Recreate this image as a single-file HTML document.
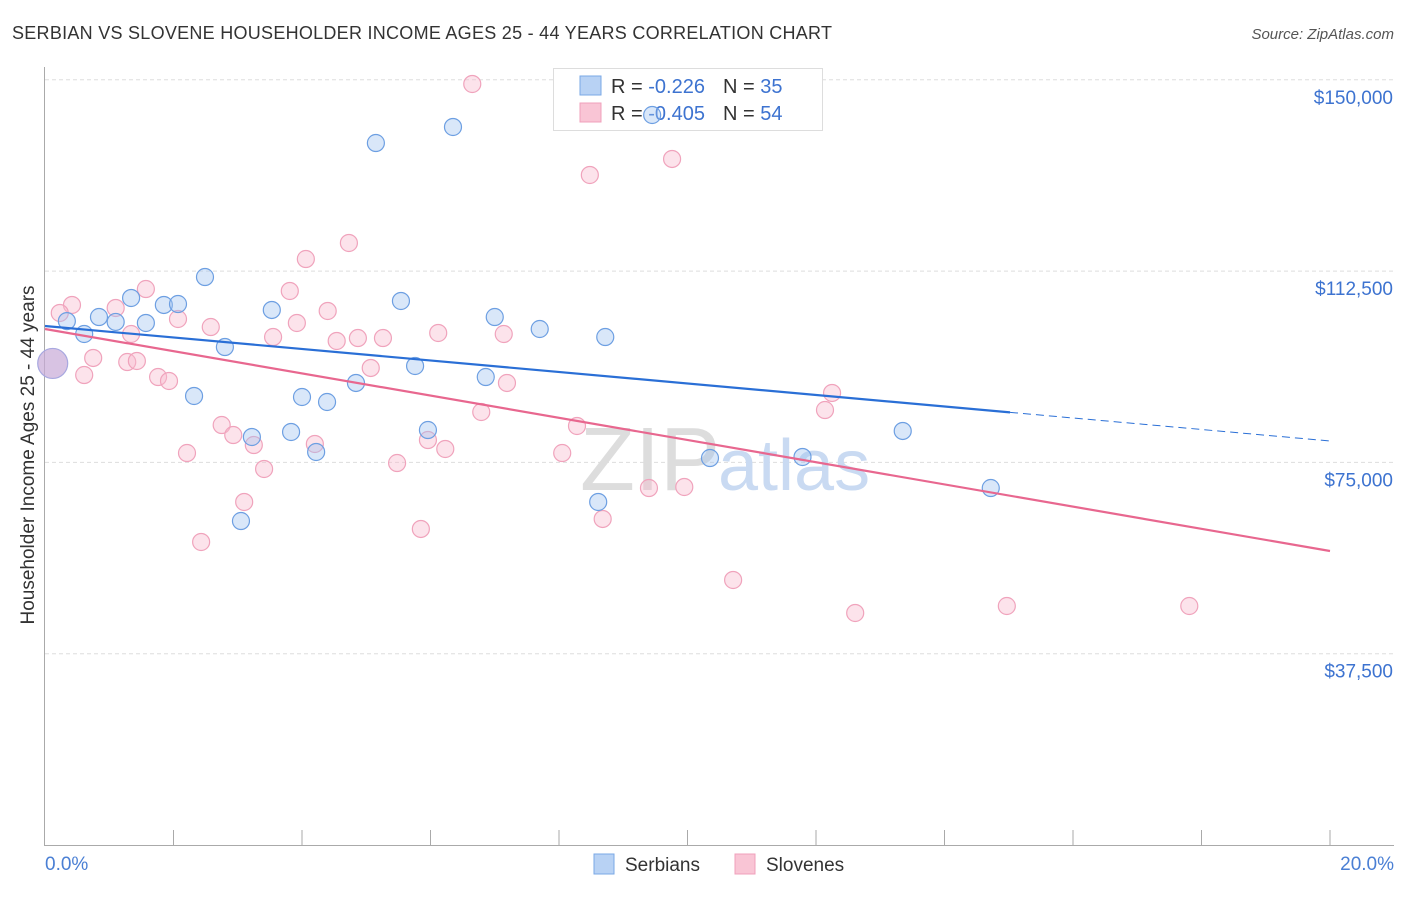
<!DOCTYPE html>
<html><head><meta charset="utf-8"><style>
body{margin:0;background:#fff;font-family:"Liberation Sans",sans-serif;}
svg text{font-family:"Liberation Sans",sans-serif;}
</style></head><body>
<svg width="1406" height="892">
<text x="12" y="39" font-size="18" fill="#333" textLength="820">SERBIAN VS SLOVENE HOUSEHOLDER INCOME AGES 25 - 44 YEARS CORRELATION CHART</text>
<text x="1394" y="39" font-size="15" fill="#555" text-anchor="end" font-style="italic">Source: ZipAtlas.com</text>
<g id="grid"></g>
<text x="720" y="490" font-size="90" fill="#ddd" text-anchor="end" font-family="Liberation Serif">ZIP</text>
<text x="718" y="490" font-size="72" fill="#c9daf2">atlas</text>
<g>
<rect x="553.5" y="68.5" width="269" height="62" fill="#fff" stroke="#ddd"/>
<rect x="580" y="76" width="21" height="19" fill="#b8d2f4" stroke="#7aa8e6"/>
<rect x="580" y="103" width="21" height="19" fill="#f9c5d5" stroke="#f0a0bb"/>
<text x="611" y="93" font-size="20" fill="#333">R = <tspan fill="#3d73d0"> -0.226</tspan><tspan dx="18">N = </tspan><tspan fill="#3d73d0">35</tspan></text>
<text x="611" y="120" font-size="20" fill="#333">R = <tspan fill="#3d73d0">-0.405</tspan><tspan dx="18">N = </tspan><tspan fill="#3d73d0">54</tspan></text>
</g>
<g id="pts"></g>
<g id="lines"></g>
<text transform="translate(34,455) rotate(-90)" font-size="19" fill="#333" text-anchor="middle">Householder Income Ages 25 - 44 years</text>
<text x="45" y="870" font-size="19" fill="#4a7fd4">0.0%</text>
<text x="1394" y="870" font-size="19" fill="#4a7fd4" text-anchor="end">20.0%</text>
<g>
<rect x="594" y="854" width="20" height="20" fill="#b8d2f4" stroke="#7aa8e6"/>
<text x="625" y="871" font-size="19" fill="#333">Serbians</text>
<rect x="735" y="854" width="20" height="20" fill="#f9c5d5" stroke="#f0a0bb"/>
<text x="766" y="871" font-size="19" fill="#333">Slovenes</text>
</g>
</svg>
<script>
const yTicks=[150000,112500,75000,37500];
const yTickLabels=["$150,000","$112,500","$75,000","$37,500"];
const serbX=[0.34,0.84,1.10,0.61,1.34,1.57,1.85,2.07,2.49,2.32,2.80,3.22,3.05,3.53,3.83,4.00,4.22,4.39,4.84,5.15,5.54,5.76,5.96,6.35,6.86,7.00,7.70,8.61,8.72,9.45,10.35,11.79,13.35,14.72];
const serbY=[102700,103500,102530,100170,107230,102330,105860,106050,111340,88020,97620,79980,63510,104880,80960,87820,77040,86840,90570,137610,106640,93900,81350,140750,91740,103500,101150,67240,99580,143100,75860,76060,81160,69980];
const sloX=[6.65,8.48,9.76,4.73,4.06,1.57,3.81,0.42,0.23,1.10,2.07,4.40,2.58,3.92,1.34,3.55,4.54,4.87,5.26,6.12,7.14,0.75,1.28,1.43,0.61,1.76,1.93,5.07,7.19,6.79,12.25,12.14,2.75,2.93,3.25,4.20,5.96,6.23,8.28,2.21,5.48,8.05,3.41,3.10,9.40,9.95,5.85,8.68,2.43,10.71,12.61,14.97,17.81];
const sloY=[149180,131340,134480,118010,114870,108990,108600,105860,104290,105270,103110,104680,101540,102330,100170,99580,98800,99380,99380,100370,100170,95470,94680,94880,92130,91740,90960,93510,90570,84880,88610,85270,82330,80370,78410,78610,79390,77630,82140,76840,74880,76840,73710,67240,69980,70180,61950,63910,59400,51950,45480,46850,46850];
const bigPoint=[0.12,94400];
const serbTrend=[101740,79200], sloTrend=[101150,57630], serbSolidEnd=15.02;
const NS="http://www.w3.org/2000/svg";
const xs=x=>45+x/20*1285, ys=y=>845-y/37500*191.3;
function mk(t,a,p){const e=document.createElementNS(NS,t);for(const k in a)e.setAttribute(k,a[k]);p.appendChild(e);return e;}
const grid=document.getElementById('grid');
yTicks.forEach((v,i)=>{
 const l=mk('line',{x1:45,x2:1394,y1:ys(v),y2:ys(v),stroke:'#ddd','stroke-dasharray':'4,3'},grid);
 
 
 const t=mk('text',{x:1393,y:ys(v)+24,'font-size':19,fill:'#3d73d0','text-anchor':'end'},grid);t.textContent=yTickLabels[i];
 
 
});
const ax=mk('line',{x1:44.5,x2:44.5,y1:67,y2:845,stroke:'#aaa'},grid);


const bx=mk('line',{x1:44,x2:1394,y1:845.5,y2:845.5,stroke:'#aaa'},grid);


for(let i=1;i<=10;i++){const t=mk('line',{x1:xs(i*2),x2:xs(i*2),y1:830,y2:845,stroke:'#aaa'},grid);
 
 }
const pts=document.getElementById('pts');
function dot(x,y,r,fill,st,name){const c=mk('circle',{cx:xs(x),cy:ys(y),r:r,fill:fill,stroke:st,'stroke-width':1.2},pts);
 
 }
sloX.forEach((x,i)=>dot(x,sloY[i],8.5,'rgba(248,185,205,0.4)','#f0a3bc','slovene-point'));
serbX.forEach((x,i)=>dot(x,serbY[i],8.5,'rgba(160,195,240,0.4)','#6d9fe2','serbian-point'));
dot(bigPoint[0],bigPoint[1],15,'rgba(200,170,215,0.7)','#a8a8e0','large-point');
const L=document.getElementById('lines');
function ln(x1,y1,x2,y2,c,w,d,name){const e=mk('line',{x1:xs(x1),y1:ys(y1),x2:xs(x2),y2:ys(y2),stroke:c,'stroke-width':w},L);if(d)e.setAttribute('stroke-dasharray',d);
 
 }
const sAt=x=>serbTrend[0]+(serbTrend[1]-serbTrend[0])*x/20;
ln(0,sloTrend[0],20,sloTrend[1],'#e8678f',2.2,null,'slovene-trend-line');
ln(0,serbTrend[0],serbSolidEnd,sAt(serbSolidEnd),'#2a6fd6',2.2,null,'serbian-trend-line');
ln(serbSolidEnd,sAt(serbSolidEnd),20,serbTrend[1],'#2a6fd6',1,'8,5','serbian-trend-extension');
</script>
</body></html>
